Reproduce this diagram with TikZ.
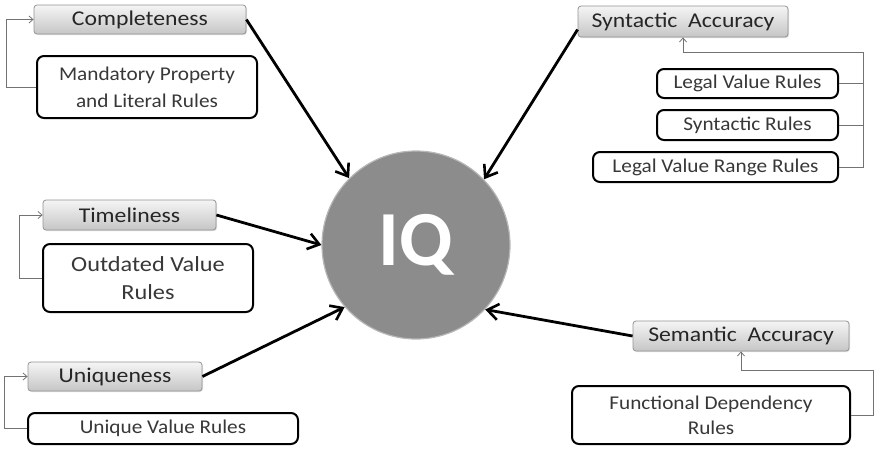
\documentclass[tikz,border=0pt]{standalone}
\usepackage{fontspec}
\setmainfont{Carlito}
\newfontfamily\headfont[FakeStretch=1.13]{Carlito}
\newfontfamily\rulefont[FakeStretch=1.09]{Carlito}
\usetikzlibrary{arrows.meta,shadows}
\begin{document}
\begin{tikzpicture}[x=1pt,y=-1pt,
  dimbox/.style={draw=black!42,rounded corners=3pt,top color=gray!8,bottom color=gray!45,
    line width=0.8pt,text=black!85,font=\headfont\fontsize{21}{23}\selectfont,
    drop shadow={shadow xshift=1pt,shadow yshift=-1pt,opacity=0.25},
    inner sep=0pt,anchor=center},
  rulebox/.style={draw=black,line width=2pt,rounded corners=7pt,fill=white,text=black!78,
    font=\rulefont\fontsize{19.5}{27}\selectfont,align=center,inner sep=0pt,anchor=center},
  main/.style={line width=2.8pt,-{Straight Barb[length=11pt,width=16pt,line width=2.6pt]}},
  conn/.style={draw=black!55,line width=1pt,-{Straight Barb[length=4pt,width=7pt,line width=0.8pt]}},
  link/.style={draw=black!55,line width=1pt}]
\useasboundingbox (0,0) rectangle (874,448);

% central node
\node[circle,minimum size=188pt,fill=black!45,draw=black!28,line width=1.2pt,
  text=white,font=\fontsize{78}{80}\selectfont\bfseries] (iq) at (416,245) {IQ};

% dimensions
\node[dimbox,minimum width=212pt,minimum height=29pt] (comp) at (140,19.5) {Completeness};
\node[dimbox,minimum width=210pt,minimum height=31pt] (syn) at (683,21.5) {Syntactic\ \ Accuracy};
\node[dimbox,minimum width=173pt,minimum height=30pt] (tim) at (129.5,215) {Timeliness};
\node[dimbox,minimum width=174pt,minimum height=29pt] (uniq) at (115,376.5) {Uniqueness};
\node[dimbox,minimum width=216pt,minimum height=30pt] (sem) at (741,336) {Semantic\ \ Accuracy};

% rule sets
\node[rulebox,minimum width=220pt,minimum height=62pt] (mand) at (147,87) {Mandatory Property\\and Literal Rules};
\node[rulebox,minimum width=181pt,minimum height=29pt] (lvr) at (747.5,83.5) {Legal Value Rules};
\node[rulebox,minimum width=181pt,minimum height=30pt] (synr) at (747.5,125) {Syntactic Rules};
\node[rulebox,minimum width=245pt,minimum height=30pt] (lvrr) at (715.5,167) {Legal Value Range Rules};
\node[rulebox,minimum width=210pt,minimum height=68pt,font=\headfont\fontsize{21.5}{28}\selectfont] (outd) at (148,278) {Outdated Value\\Rules};
\node[rulebox,minimum width=270pt,minimum height=31pt] (unr) at (163,428.5) {Unique Value Rules};
\node[rulebox,minimum width=278pt,minimum height=58pt,font=\rulefont\fontsize{19.5}{25}\selectfont] (fdr) at (711,415) {Functional Dependency\\Rules};

% rule sets feeding their dimension
\draw[conn] (mand.west) -- ++(-30,0) |- (comp.west);
\draw[conn] (outd.west) -- ++(-23,0) |- (tim.west);
\draw[conn] (unr.west) -- ++(-23,0) |- (uniq.west);
\coordinate (sbus) at (863,52);
\draw[conn] (lvrr.east) -| (sbus) -| (syn.south);
\draw[link] (lvr.east) -- (lvr.east -| sbus);
\draw[link] (synr.east) -- (synr.east -| sbus);
\coordinate (fbus) at (873,370);
\draw[conn] (fdr.east) -| (fbus) -| (sem.south);

% dimensions feeding IQ
\draw[main] (comp.east) -- (iq.135);
\draw[main] ([yshift=-8pt]syn.west) -- (iq.44);
\draw[main] (tim.east) -- (iq.180);
\draw[main] (uniq.east) -- (iq.221);
\draw[main] (sem.west) -- (iq.317);
\end{tikzpicture}
\end{document}
